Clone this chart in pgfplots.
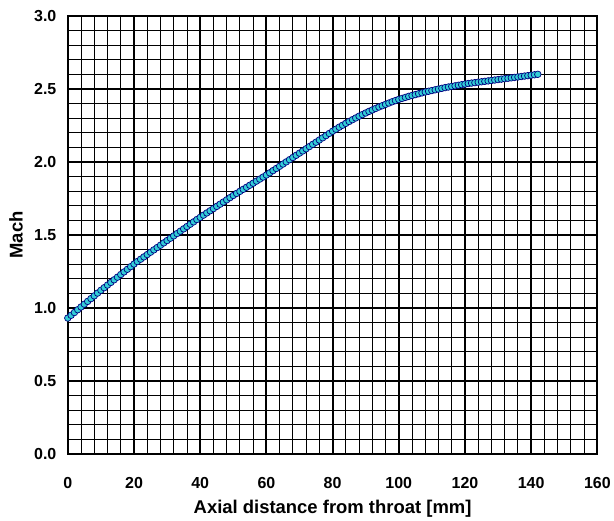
\documentclass[border=0pt]{standalone}
\usepackage{fontspec}
\setmainfont{Liberation Sans}
\usepackage{pgfplots}
\pgfplotsset{compat=1.18}
\definecolor{mfill}{RGB}{51,204,214}
\definecolor{medge}{RGB}{0,0,128}
\begin{document}
\begin{tikzpicture}
\begin{axis}[
  at={(0,0)}, anchor=south west,
  scale only axis, width=531pt, height=439pt,
  xmin=0, xmax=160, ymin=0, ymax=3,
  xtick distance=20, ytick distance=0.5,
  minor x tick num=4, minor y tick num=4,
  grid=both,
  major grid style={black, line width=2.1pt},
  minor grid style={black, line width=0.9pt},
  axis line style={black, line width=2.1pt},
  major tick length=0pt, minor tick length=0pt,
  /pgf/number format/assume math mode=true,
  tick label style={font=\fontsize{16}{18}\selectfont\bfseries},
  yticklabel style={anchor=east, xshift=-8pt, /pgf/number format/.cd, fixed, fixed zerofill, precision=1},
  xticklabel style={anchor=base, yshift=-35pt, /pgf/number format/.cd, fixed, precision=0},
  xlabel={Axial distance from throat [mm]},
  ylabel={Mach},
  label style={font=\fontsize{18.5}{20}\selectfont\bfseries},
  xlabel style={at={(axis description cs:0.5,0)}, anchor=base, yshift=-60pt},
  ylabel style={at={(axis description cs:0,0.5)}, anchor=center, yshift=52pt},
  clip=false,
]
\addplot[only marks, mark=*, mark size=3.3pt, mark options={fill=mfill, draw=medge, line width=0.7pt}] coordinates {
(0,0.930)(1,0.949)(2,0.968)(3,0.987)(4,1.006)(5,1.025)(6,1.044)(7,1.063)(8,1.082)(9,1.101)
(10,1.120)(11,1.138)(12,1.156)(13,1.174)(14,1.192)(15,1.210)(16,1.228)(17,1.246)(18,1.264)(19,1.282)
(20,1.300)(21,1.317)(22,1.333)(23,1.349)(24,1.365)(25,1.381)(26,1.397)(27,1.413)(28,1.429)(29,1.445)
(30,1.461)(31,1.477)(32,1.493)(33,1.509)(34,1.525)(35,1.541)(36,1.557)(37,1.573)(38,1.589)(39,1.605)
(40,1.620)(41,1.635)(42,1.650)(43,1.665)(44,1.680)(45,1.695)(46,1.710)(47,1.725)(48,1.740)(49,1.755)
(50,1.770)(51,1.784)(52,1.798)(53,1.812)(54,1.826)(55,1.840)(56,1.854)(57,1.868)(58,1.882)(59,1.896)
(60,1.910)(61,1.925)(62,1.940)(63,1.955)(64,1.970)(65,1.985)(66,2.000)(67,2.015)(68,2.030)(69,2.045)
(70,2.060)(71,2.075)(72,2.090)(73,2.105)(74,2.120)(75,2.135)(76,2.150)(77,2.165)(78,2.180)(79,2.195)
(80,2.210)(81,2.224)(82,2.238)(83,2.251)(84,2.264)(85,2.277)(86,2.289)(87,2.301)(88,2.313)(89,2.324)
(90,2.335)(91,2.346)(92,2.356)(93,2.366)(94,2.376)(95,2.385)(96,2.394)(97,2.403)(98,2.412)(99,2.420)
(100,2.428)(101,2.435)(102,2.442)(103,2.449)(104,2.455)(105,2.461)(106,2.467)(107,2.473)(108,2.479)(109,2.484)
(110,2.489)(111,2.494)(112,2.499)(113,2.504)(114,2.509)(115,2.513)(116,2.517)(117,2.521)(118,2.525)(119,2.529)
(120,2.533)(121,2.537)(122,2.540)(123,2.543)(124,2.546)(125,2.549)(126,2.552)(127,2.555)(128,2.558)(129,2.561)
(130,2.564)(131,2.567)(132,2.570)(133,2.573)(134,2.576)(135,2.579)(136,2.582)(137,2.585)(138,2.588)(139,2.591)
(140,2.594)(141,2.597)(142,2.600)
};
\end{axis}
\path (-68pt,-66pt) rectangle (546pt,455pt);
\end{tikzpicture}
\end{document}
